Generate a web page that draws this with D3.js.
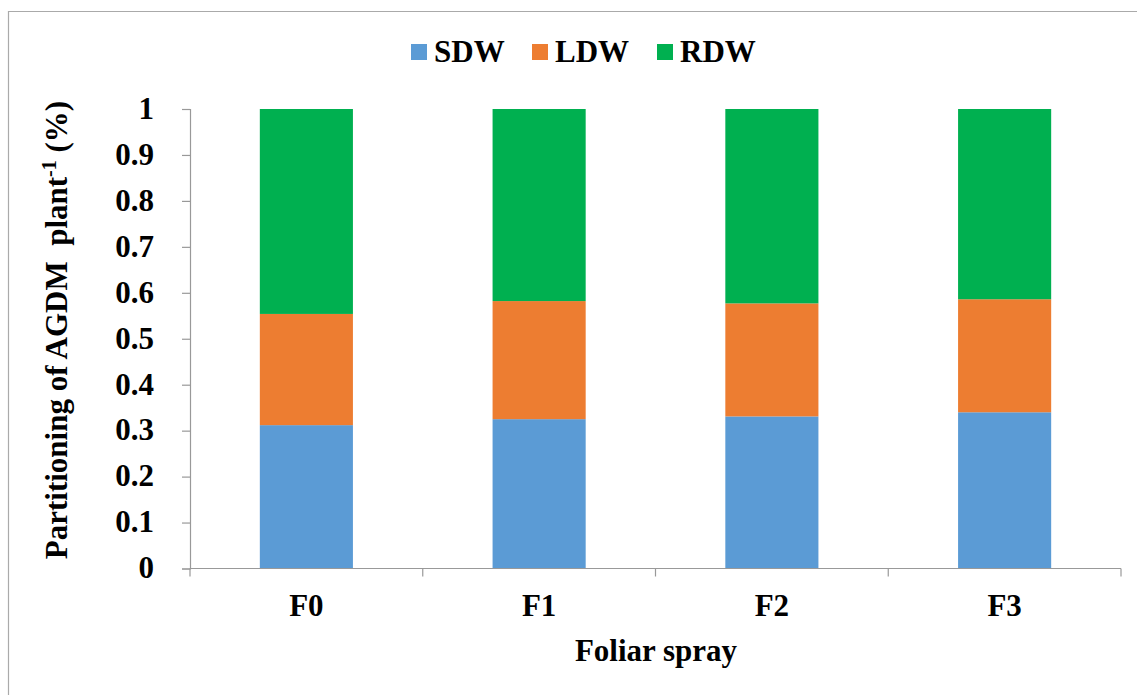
<!DOCTYPE html>
<html>
<head>
<meta charset="utf-8">
<script src="https://cdn.jsdelivr.net/npm/d3@7"></script>
<style>
  html, body { margin: 0; padding: 0; background: #fff; }
</style>
</head>
<body>
<svg id="chart" width="1137" height="695"></svg>
<script>
// data
const categories = ['F0', 'F1', 'F2', 'F3'];
const seriesNames = ['SDW', 'LDW', 'RDW'];
const sdw = [0.312, 0.325, 0.331, 0.340];
const ldw = [0.242, 0.257, 0.246, 0.246];
const rdw = [0.446, 0.418, 0.423, 0.414];
const yTicks = [0, 0.1, 0.2, 0.3, 0.4, 0.5, 0.6, 0.7, 0.8, 0.9, 1];
const colors = ['#5B9BD5', '#ED7D31', '#00B050'];

const FONT = '"Liberation Serif", "Times New Roman", "DejaVu Serif", serif';
const FS = 31;

const svg = d3.select('#chart');

// outer frame (only left and top edges show in the reference)
svg.append('path')
  .attr('d', 'M8.5,695 L8.5,11.5 L1137,11.5')
  .attr('fill', 'none')
  .attr('stroke', '#aaa')
  .attr('stroke-width', 1.2);

const margin = { left: 190, right: 1121, top: 109, bottom: 568.5 };

const xScale = d3.scaleBand()
  .domain(categories)
  .range([margin.left, margin.right]);
const yScale = d3.scaleLinear()
  .domain([0, 1])
  .range([margin.bottom, margin.top]);

const rows = categories.map((c, i) => ({ cat: c, SDW: sdw[i], LDW: ldw[i], RDW: rdw[i] }));
const stacked = d3.stack().keys(seriesNames)(rows);
const color = d3.scaleOrdinal().domain(seriesNames).range(colors);

const barW = xScale.bandwidth() * 0.4;

svg.append('g')
  .selectAll('g')
  .data(stacked)
  .enter()
  .append('g')
  .attr('fill', d => color(d.key))
  .selectAll('rect')
  .data(d => d)
  .enter()
  .append('rect')
  .attr('x', d => xScale(d.data.cat) + (xScale.bandwidth() - barW) / 2)
  .attr('width', barW)
  .attr('y', d => yScale(d[1]))
  .attr('height', d => yScale(d[0]) - yScale(d[1]));

// y axis
const yAxis = svg.append('g')
  .attr('transform', `translate(${margin.left},0)`)
  .call(d3.axisLeft(yScale).tickValues(yTicks).tickSize(8).tickPadding(28)
    .tickFormat(d => d === 0 || d === 1 ? d3.format('d')(d) : d3.format('.1f')(d)));
yAxis.select('.domain').attr('stroke', '#999').attr('stroke-width', 1.2);
yAxis.selectAll('.tick line').attr('stroke', '#999').attr('stroke-width', 1.2);
yAxis.selectAll('text')
  .style('font-family', FONT).style('font-weight', 'bold').style('font-size', FS + 'px')
  .attr('fill', '#000').attr('dy', '0.3em');

// x axis
const xTickScale = d3.scaleLinear().domain([0, categories.length]).range([margin.left, margin.right]);
const xAxisG = svg.append('g')
  .attr('transform', `translate(0,${margin.bottom})`);
xAxisG.append('line')
  .attr('x1', margin.left).attr('x2', margin.right)
  .attr('stroke', '#999').attr('stroke-width', 1.2);
xAxisG.selectAll('.xtick')
  .data(d3.range(categories.length + 1))
  .enter()
  .append('line')
  .attr('x1', d => xTickScale(d)).attr('x2', d => xTickScale(d))
  .attr('y1', 0).attr('y2', 8)
  .attr('stroke', '#999').attr('stroke-width', 1.2);
xAxisG.selectAll('.xlabel')
  .data(categories)
  .enter()
  .append('text')
  .attr('x', d => xScale(d) + xScale.bandwidth() / 2)
  .attr('y', 47)
  .attr('text-anchor', 'middle')
  .style('font-family', FONT).style('font-weight', 'bold').style('font-size', FS + 'px')
  .text(d => d);

// axis titles
svg.append('text')
  .attr('x', 656)
  .attr('y', 661)
  .attr('text-anchor', 'middle')
  .style('font-family', FONT).style('font-weight', 'bold').style('font-size', FS + 'px')
  .text('Foliar spray');

const yTitle = svg.append('text')
  .attr('transform', 'translate(67,330) rotate(-90)')
  .attr('text-anchor', 'middle')
  .style('font-family', FONT).style('font-weight', 'bold').style('font-size', FS + 'px');
yTitle.append('tspan').text('Partitioning of AGDM\u00a0 plant');
yTitle.append('tspan').attr('dy', -11).style('font-size', '20px').text('-1');
yTitle.append('tspan').attr('dy', 11).text(' (%)');

// legend
const legendX = [411, 532, 657];
const legend = svg.append('g')
  .selectAll('g')
  .data(seriesNames)
  .enter()
  .append('g')
  .attr('transform', (d, i) => `translate(${legendX[i]},44)`);
legend.append('rect')
  .attr('width', 16).attr('height', 16)
  .attr('fill', d => color(d));
legend.append('text')
  .attr('x', 23).attr('y', 18)
  .style('font-family', FONT).style('font-weight', 'bold').style('font-size', FS + 'px')
  .text(d => d);
</script>
</body>
</html>
